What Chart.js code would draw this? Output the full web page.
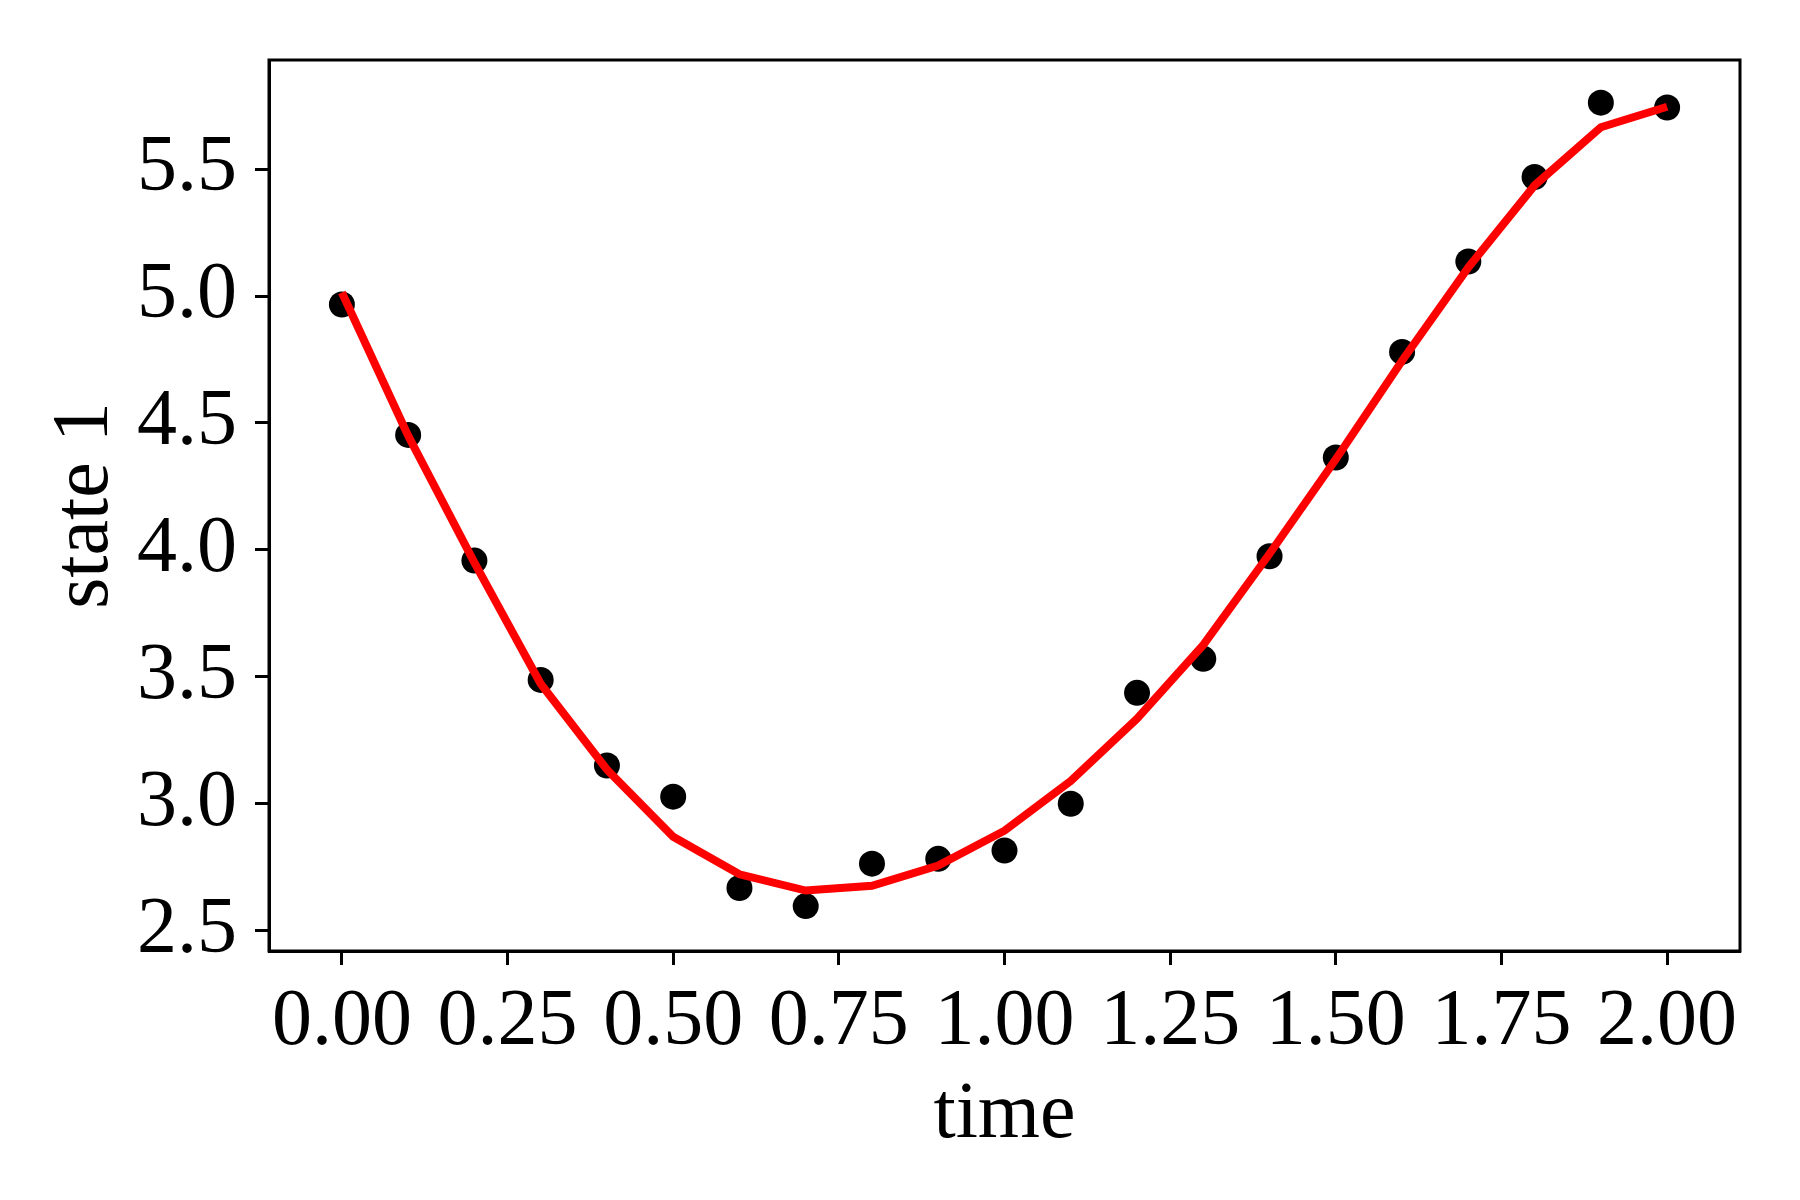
<!DOCTYPE html>
<html>
<head>
<meta charset="utf-8">
<script src="https://cdn.jsdelivr.net/npm/chart.js@4.4.0/dist/chart.umd.min.js"></script>
<style>
    body { margin: 0; background: #fff; }
    #wrap { width: 1800px; height: 1200px; }
</style>
</head>
<body>
<div id="wrap"><canvas id="chart" width="1800" height="1200"></canvas></div>
<script>
// Measured samples (black dots)
const sampleTimes = [0.0, 0.1, 0.2, 0.3, 0.4, 0.5, 0.6, 0.7, 0.8, 0.9, 1.0,
    1.1, 1.2, 1.3, 1.4, 1.5, 1.6, 1.7, 1.8, 1.9, 2.0];
const sampleValues = [4.967, 4.453, 3.958, 3.488, 3.151, 3.028, 2.668, 2.597, 2.764, 2.783, 2.816,
    3.000, 3.437, 3.571, 3.975, 4.364, 4.780, 5.136, 5.469, 5.762, 5.743];

// Fitted model (red line)
const fitTimes = sampleTimes;
const fitValues = [5.014, 4.450, 3.950, 3.473, 3.135, 2.870, 2.722, 2.658, 2.677, 2.757, 2.894,
    3.090, 3.335, 3.626, 3.985, 4.357, 4.745, 5.113, 5.436, 5.665, 5.746];

// Tick labels
const xTicks = [0, 0.25, 0.5, 0.75, 1.0, 1.25, 1.5, 1.75, 2.0];
const yTicks = [2.5, 3.0, 3.5, 4.0, 4.5, 5.0, 5.5];

const FONT = "'Liberation Serif', 'Times New Roman', serif";

// Draw the full box around the plot area (matplotlib style)
const frameBox = {
    id: 'frameBox',
    afterDraw(chart) {
        const { ctx, chartArea: a } = chart;
        ctx.save();
        ctx.strokeStyle = '#000';
        ctx.lineWidth = 3;
        ctx.strokeRect(a.left, a.top, a.right - a.left, a.bottom - a.top);
        ctx.restore();
    }
};

const ctx = document.getElementById('chart');
new Chart(ctx, {
    type: 'scatter',
    data: {
        datasets: [{
            type: 'line',
            label: 'fit',
            data: fitTimes.map((t, i) => ({ x: t, y: fitValues[i] })),
            borderColor: '#ff0000',
            borderWidth: 8,
            pointRadius: 0,
            tension: 0,
            fill: false,
            order: 0
        }, {
            label: 'data',
            data: sampleTimes.map((t, i) => ({ x: t, y: sampleValues[i] })),
            backgroundColor: '#000',
            borderWidth: 0,
            pointRadius: 13,
            order: 1
        }]
    },
    options: {
        responsive: false,
        animation: false,
        devicePixelRatio: 1,
        layout: { padding: { top: 60, right: 60, left: 0, bottom: 0 } },
        plugins: {
            legend: { display: false },
            tooltip: { enabled: false }
        },
        scales: {
            x: {
                type: 'linear',
                min: -0.11,
                max: 2.11,
                afterBuildTicks: scale => { scale.ticks = xTicks.map(v => ({ value: v })); },
                afterFit: scale => { scale.height = 249; },
                ticks: {
                    color: '#000',
                    font: { family: FONT, size: 80 },
                    padding: 10,
                    maxRotation: 0,
                    autoSkip: false,
                    callback: v => v.toFixed(2)
                },
                grid: {
                    drawOnChartArea: false,
                    tickLength: 14,
                    tickWidth: 3,
                    color: '#000'
                },
                border: { display: true, color: '#000', width: 3 },
                title: {
                    display: true,
                    text: 'time',
                    color: '#000',
                    font: { family: FONT, size: 80 },
                    padding: 36
                }
            },
            y: {
                type: 'linear',
                min: 2.42,
                max: 5.93,
                afterBuildTicks: scale => { scale.ticks = yTicks.map(v => ({ value: v })); },
                afterFit: scale => { scale.width = 269; },
                ticks: {
                    color: '#000',
                    font: { family: FONT, size: 80, lineHeight: 0.9 },
                    padding: 18,
                    autoSkip: false,
                    callback: v => v.toFixed(1)
                },
                grid: {
                    drawOnChartArea: false,
                    tickLength: 14,
                    tickWidth: 3,
                    color: '#000'
                },
                border: { display: true, color: '#000', width: 3 },
                title: {
                    display: true,
                    text: 'state 1',
                    color: '#000',
                    font: { family: FONT, size: 80 },
                    padding: 38
                }
            }
        }
    },
    plugins: [frameBox]
});
</script>
</body>
</html>
